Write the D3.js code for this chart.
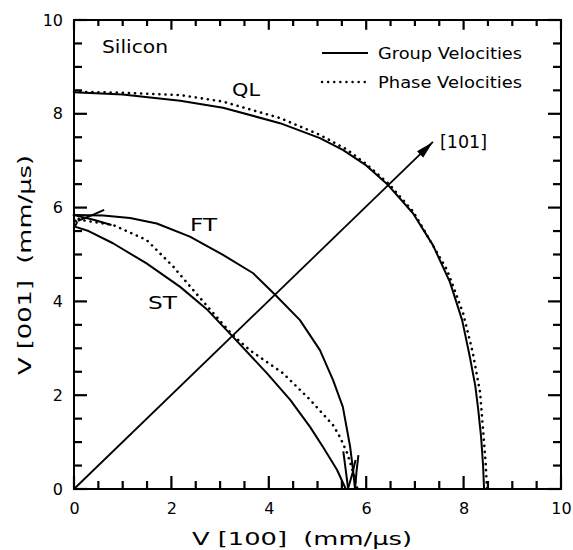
<!DOCTYPE html>
<html>
<head>
<meta charset="utf-8">
<script src="https://cdn.jsdelivr.net/npm/d3@7"></script>
<style>
  body { margin: 0; background: #fff; }
  text { font-family: "DejaVu Sans", sans-serif; fill: #000; }
</style>
</head>
<body>
<svg id="chart" width="573" height="550"></svg>
<script>
// Values, in mm/us: [V[100], V[001]]
const qlGroup = [[0, 8.46], [1.0, 8.41], [2.18, 8.28], [3.06, 8.13], [4.23, 7.8], [5.05, 7.48], [5.52, 7.23],
  [6.0, 6.9], [6.45, 6.48], [6.96, 5.88], [7.37, 5.2], [7.72, 4.41], [7.97, 3.6], [8.13, 2.81],
  [8.24, 2.2], [8.3, 1.7], [8.36, 1.1], [8.4, 0.5], [8.42, 0]];
const qlPhase = [[0, 8.47], [1.0, 8.45], [2.18, 8.4], [3.06, 8.26], [4.23, 7.91], [5.05, 7.55], [5.6, 7.24],
  [6.0, 6.93], [6.47, 6.5], [6.96, 5.92], [7.2, 5.5], [7.66, 4.67], [7.99, 3.75], [8.19, 2.9],
  [8.34, 2.05], [8.4, 1.26], [8.45, 0.6], [8.48, 0]];
const ftGroup = [[0, 5.84], [0.6, 5.83], [1.15, 5.78], [1.7, 5.66], [2.38, 5.38], [3.06, 4.99], [3.68, 4.6],
  [4.13, 4.14], [4.64, 3.6], [5.05, 2.96], [5.32, 2.32], [5.52, 1.75], [5.6, 1.3], [5.67, 0.9],
  [5.73, 0.41], [5.77, 0]];
const stGroup = [[0, 5.6], [0.3, 5.5], [0.8, 5.24], [1.49, 4.81], [2.18, 4.31], [2.72, 3.84], [3.26, 3.25],
  [3.96, 2.47], [4.44, 1.9], [4.85, 1.32], [5.11, 0.9], [5.4, 0.41], [5.58, 0]];
const stPhase = [[0, 5.84], [0.12, 5.74], [0.8, 5.63], [1.49, 5.31], [2.04, 4.74], [2.45, 4.24], [2.86, 3.75],
  [3.26, 3.28], [3.61, 2.96], [4.29, 2.47], [4.85, 1.9], [5.32, 1.36], [5.46, 1.11], [5.6, 0.79],
  [5.7, 0.47], [5.77, 0.19], [5.82, 0]];
// cusp branches of the ST group curve near the two axes
const stCusps = [
  [[0, 5.84], [0.4, 5.74], [0.77, 5.63]],
  [[0.08, 5.72], [0.35, 5.83], [0.62, 5.95]],
  [[0.02, 5.6], [0.06, 5.68], [0.02, 5.74]],
  [[5.63, 0], [5.58, 0.4], [5.53, 0.8]],
  [[5.77, 0], [5.8, 0.36], [5.84, 0.72]],
  [[5.63, 0.02], [5.72, 0.34], [5.78, 0.62]]
];
const arrow101 = [[0, 0], [7.37, 7.4]];

const majorTicks = [0, 2, 4, 6, 8, 10];
const minorTicks = [0.5, 1, 1.5, 2.5, 3, 3.5, 4.5, 5, 5.5, 6.5, 7, 7.5, 8.5, 9, 9.5];

const svg = d3.select('#chart');
const x = d3.scaleLinear().domain([0, 10]).range([74, 561]);
const y = d3.scaleLinear().domain([0, 10]).range([489, 20]);
const curve = d3.line().x(d => x(d[0])).y(d => y(d[1]));

// tick labels through d3 axes (tick marks are drawn separately below)
const xAxis = svg.append('g')
  .attr('transform', `translate(0,${y(0)})`)
  .call(d3.axisBottom(x).tickValues(majorTicks).tickSize(0).tickPadding(14).tickFormat(d3.format('d')));
const yAxis = svg.append('g')
  .attr('transform', `translate(${x(0)},0)`)
  .call(d3.axisLeft(y).tickValues(majorTicks).tickSize(0).tickPadding(11).tickFormat(d3.format('d')));
[xAxis, yAxis].forEach(g => {
  g.select('.domain').remove();
  g.selectAll('text')
    .style('font-size', '16px')
    .style('font-family', '"DejaVu Sans", sans-serif')
    .attr('fill', '#000');
});

// frame
svg.append('rect')
  .attr('x', x(0)).attr('y', y(10))
  .attr('width', x(10) - x(0)).attr('height', y(0) - y(10))
  .attr('fill', 'none').attr('stroke', '#000').attr('stroke-width', 2);

// --- curves ---
function drawCurve(data, dotted) {
  const p = svg.append('path')
    .datum(data)
    .attr('d', curve)
    .attr('fill', 'none')
    .attr('stroke', '#000')
    .attr('stroke-linejoin', 'round');
  if (dotted) {
    p.attr('stroke-width', 2.6).attr('stroke-linecap', 'round').attr('stroke-dasharray', '0.1,6');
  } else {
    p.attr('stroke-width', 2);
  }
}
drawCurve(qlPhase, true);
drawCurve(qlGroup, false);
drawCurve(stPhase, true);
drawCurve(stGroup, false);
drawCurve(ftGroup, false);
stCusps.forEach(c => drawCurve(c, false));

// [101] arrow
svg.append('defs').append('marker')
  .attr('id', 'head')
  .attr('markerUnits', 'userSpaceOnUse')
  .attr('markerWidth', 20).attr('markerHeight', 10)
  .attr('refX', 18).attr('refY', 5)
  .attr('orient', 'auto')
  .append('path').attr('d', 'M0,0.5 L18,5 L0,9.5 Z').attr('fill', '#000');
svg.append('path')
  .datum(arrow101)
  .attr('d', curve)
  .attr('stroke', '#000')
  .attr('stroke-width', 1.8)
  .attr('marker-end', 'url(#head)');

// --- inward tick marks on all four sides ---
const tickSets = [
  { values: minorTicks, len: 8 },
  { values: majorTicks, len: 13 }
];
const tickLayer = svg.append('g').attr('stroke', '#000').attr('stroke-width', 2.2);
tickSets.forEach(set => {
  const sides = [
    d => [x(d), y(0), x(d), y(0) - set.len],          // bottom
    d => [x(d), y(10), x(d), y(10) + set.len * 0.75], // top
    d => [x(0), y(d), x(0) + set.len, y(d)],          // left
    d => [x(10), y(d), x(10) - set.len, y(d)]         // right
  ];
  sides.forEach(pos => {
    tickLayer.selectAll(null).data(set.values).enter().append('line')
      .attr('x1', d => pos(d)[0]).attr('y1', d => pos(d)[1])
      .attr('x2', d => pos(d)[2]).attr('y2', d => pos(d)[3])
      .style('stroke', '#000').style('stroke-width', '2.2px');
  });
});

// --- labels (the scanned lettering is wide, so stretch to the measured width) ---
function label(txt, px, py, size, width, anchor) {
  const t = svg.append('text')
    .attr('x', px).attr('y', py)
    .attr('text-anchor', anchor || 'start')
    .style('font-size', size + 'px')
    .text(txt);
  if (width) t.attr('textLength', width).attr('lengthAdjust', 'spacingAndGlyphs');
  return t;
}
label('Silicon', 102, 53, 17, 66);
label('QL', 232, 96, 17, 28);
label('FT', 190, 231, 17, 27);
label('ST', 148, 309, 17, 29);
label('[101]', 440, 148, 17, 47);

// legend
const legendItems = [
  { name: 'Group Velocities', dotted: false, py: 53 },
  { name: 'Phase Velocities', dotted: true, py: 82 }
];
legendItems.forEach(item => {
  const l = svg.append('line')
    .attr('x1', 322).attr('x2', 368)
    .attr('y1', item.py).attr('y2', item.py)
    .attr('stroke', '#000');
  if (item.dotted) {
    l.attr('stroke-width', 2.4).attr('stroke-linecap', 'round').attr('stroke-dasharray', '0.1,6');
  } else {
    l.attr('stroke-width', 2);
  }
  label(item.name, 378, item.py + 6, 16, 144);
});

// axis titles
label('V [100]  (mm/\u03bcs)', 192, 545, 17, 220).attr('xml:space', 'preserve');
svg.append('text')
  .attr('transform', 'translate(31,375) rotate(-90)')
  .attr('xml:space', 'preserve')
  .attr('textLength', 220).attr('lengthAdjust', 'spacingAndGlyphs')
  .style('font-size', '17px')
  .text('V [001]  (mm/\u03bcs)');
</script>
</body>
</html>
